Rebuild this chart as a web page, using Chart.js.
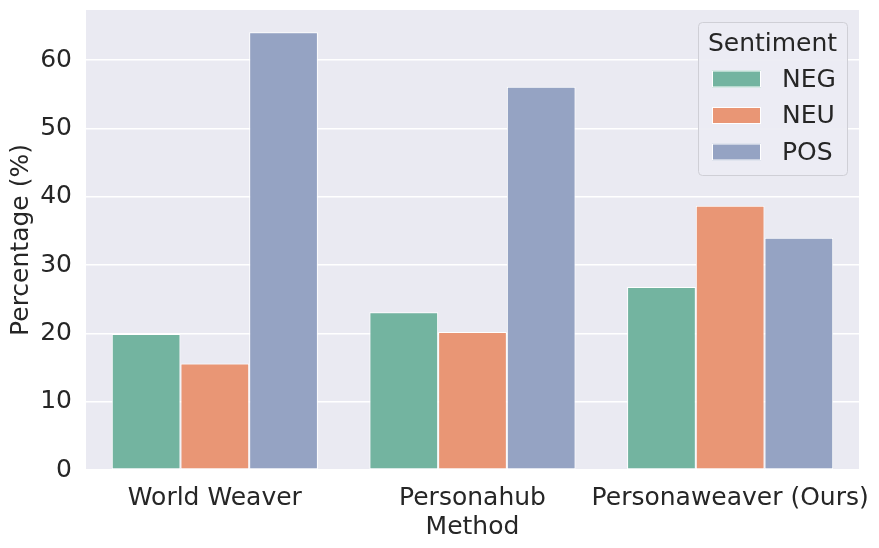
<!DOCTYPE html>
<html>
<head>
<meta charset="utf-8">
<script src="https://cdn.jsdelivr.net/npm/chart.js@4/dist/chart.umd.min.js"></script>
<style>
  html, body { margin: 0; padding: 0; background: #ffffff; }
  #wrap { width: 879px; height: 548px; }
</style>
</head>
<body>
<div id="wrap"><canvas id="c" width="879" height="548"></canvas></div>
<script>
const categories = ["World Weaver", "Personahub", "Personaweaver (Ours)"];
const seriesNames = ["NEG", "NEU", "POS"];
const negValues = [19.9, 23.1, 26.8];
const neuValues = [15.6, 20.2, 38.7];
const posValues = [64.1, 56.1, 34.0];
const yTicks = [0, 10, 20, 30, 40, 50, 60];
const colors = ["#73b4a0", "#e99675", "#95a3c3"];

const FONT = "'DejaVu Sans', sans-serif";
const TEXT = "#262626";
const FS = 25;

const bgPlugin = {
  id: "bg",
  beforeDraw(chart) {
    const { ctx, chartArea: a } = chart;
    ctx.save();
    ctx.fillStyle = "#ffffff";
    ctx.fillRect(0, 0, chart.width, chart.height);
    ctx.fillStyle = "#eaeaf2";
    ctx.fillRect(a.left, a.top, a.right - a.left, a.bottom - a.top);
    ctx.restore();
  }
};

const legendPlugin = {
  id: "customLegend",
  afterDraw(chart) {
    const { ctx, chartArea: a } = chart;
    const w = 149, h = 153;
    const x = a.right - 12 - w, y = a.top + 12;
    ctx.save();
    ctx.beginPath();
    ctx.roundRect(x + 0.5, y + 0.5, w, h, 4);
    ctx.fillStyle = "rgba(236,236,243,0.95)";
    ctx.fill();
    ctx.strokeStyle = "#cfcfd6";
    ctx.lineWidth = 1;
    ctx.stroke();
    ctx.fillStyle = TEXT;
    ctx.font = FS + "px " + FONT;
    ctx.textAlign = "center";
    ctx.textBaseline = "middle";
    ctx.fillText("Sentiment", x + w / 2, y + 22);
    chart.data.datasets.forEach((ds, i) => {
      const ry = y + 57 + i * 36.5;
      ctx.fillStyle = ds.backgroundColor;
      ctx.fillRect(x + 14, ry - 8.5, 49, 17);
      ctx.strokeStyle = "#ffffff";
      ctx.strokeRect(x + 14.5, ry - 8, 48, 16);
      ctx.fillStyle = TEXT;
      ctx.textAlign = "left";
      ctx.fillText(ds.label, x + 84, ry + 1);
    });
    ctx.restore();
  }
};

const seriesValues = [negValues, neuValues, posValues];

new Chart(document.getElementById("c"), {
  type: "bar",
  data: {
    labels: categories,
    datasets: seriesNames.map((name, i) => ({
      label: name,
      data: seriesValues[i],
      backgroundColor: colors[i],
      borderColor: "#ffffff",
      borderWidth: 1,
      borderSkipped: false,
      categoryPercentage: 0.8,
      barPercentage: 1.0
    }))
  },
  options: {
    responsive: false,
    animation: false,
    devicePixelRatio: 1,
    layout: { padding: { left: 0, right: 20, top: 10, bottom: 0 } },
    plugins: {
      legend: { display: false },
      tooltip: { enabled: false }
    },
    scales: {
      x: {
        grid: { display: false, drawTicks: false },
        border: { display: false },
        ticks: { color: TEXT, font: { family: FONT, size: FS }, padding: 13, maxRotation: 0, autoSkip: false },
        title: { display: true, text: "Method", color: TEXT, font: { family: FONT, size: FS }, padding: { top: 0, bottom: 6 } },
        afterFit(scale) { scale.height = 78; scale.paddingLeft = 0; scale.paddingRight = 0; }
      },
      y: {
        min: 0,
        max: 67.35,
        afterBuildTicks(scale) { scale.ticks = yTicks.map(v => ({ value: v })); },
        grid: { color: "#ffffff", lineWidth: 1.5, drawTicks: false },
        border: { display: false },
        ticks: { color: TEXT, font: { family: FONT, size: FS }, padding: 14 },
        title: { display: true, text: "Percentage (%)", color: TEXT, font: { family: FONT, size: FS }, padding: { top: 6, bottom: 0 } },
        afterFit(scale) { scale.width = 86; scale.paddingTop = 0; scale.paddingBottom = 0; }
      }
    }
  },
  plugins: [bgPlugin, legendPlugin]
});
</script>
</body>
</html>
